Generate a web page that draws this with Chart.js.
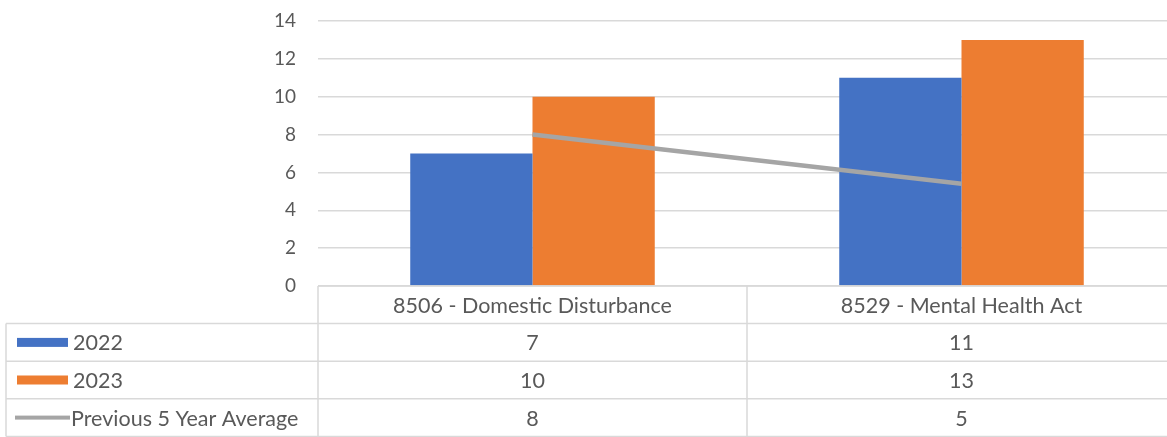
<!DOCTYPE html>
<html>
<head>
<meta charset="utf-8">
<script src="https://cdn.jsdelivr.net/npm/chart.js@4.4.0/dist/chart.umd.min.js"></script>
<style>
    html, body { margin: 0; padding: 0; background: #fff; overflow: hidden; }
    #wrap { width: 1176px; height: 437px; }
</style>
</head>
<body>
<div id="wrap"><canvas id="callChart" width="1176" height="437"></canvas></div>
<script>
// ═══ 데이터 ═══
const categories = ['8506 - Domestic Disturbance', '8529 - Mental Health Act'];
const values2022 = [7, 11];
const values2023 = [10, 13];
const avg5Year   = [8, 5.4];
const yTicks     = [0, 2, 4, 6, 8, 10, 12, 14];

const COLORS = { y2022: '#4472c4', y2023: '#ed7d31', avg: '#a5a5a5', text: '#595959', grid: '#d9d9d9' };
const FONT   = 'Lato, "Open Sans", sans-serif';

const tableRows = [
    { label: '2022', data: values2022, color: COLORS.y2022, kind: 'bar' },
    { label: '2023', data: values2023, color: COLORS.y2023, kind: 'bar' },
    { label: 'Previous 5 Year Average', data: avg5Year, color: COLORS.avg, kind: 'line' }
];

/**
 * 차트 아래 데이터 테이블 (엑셀 스타일) - x 스케일 기준으로 셀 위치 계산
 */
const dataTablePlugin = {
    id: 'dataTable',
    afterDraw(chart) {
        const ctx  = chart.ctx;
        const x    = chart.scales.x;
        const area = chart.chartArea;
        const rowH = 37.6;
        const half = (x.getPixelForValue(1) - x.getPixelForValue(0)) / 2;
        const top  = area.bottom;
        const left = 6;
        const right = chart.width;

        ctx.save();
        ctx.strokeStyle = COLORS.grid;
        ctx.lineWidth = 1.5;

        // 가로선
        ctx.beginPath();
        ctx.moveTo(area.left, top); ctx.lineTo(right, top);
        for (let r = 1; r <= 4; r++) {
            const y = top + r * rowH;
            ctx.moveTo(left, y); ctx.lineTo(right, y);
        }
        // 세로선
        ctx.moveTo(left, top + rowH); ctx.lineTo(left, top + 4 * rowH);
        ctx.moveTo(area.left, top); ctx.lineTo(area.left, top + 4 * rowH);
        categories.forEach((c, i) => {
            const bx = x.getPixelForValue(i) + half;
            ctx.moveTo(bx, top); ctx.lineTo(bx, top + 4 * rowH);
        });
        ctx.stroke();

        ctx.fillStyle = COLORS.text;
        ctx.font = '21.5px ' + FONT;
        ctx.textBaseline = 'middle';
        ctx.textAlign = 'center';

        categories.forEach((c, i) => {
            ctx.fillText(c, x.getPixelForValue(i), top + rowH / 2 + 1);
        });

        tableRows.forEach((row, r) => {
            const cy = top + (r + 1.5) * rowH;
            row.data.forEach((v, i) => {
                ctx.fillStyle = COLORS.text;
                ctx.textAlign = 'center';
                ctx.fillText(String(Math.round(v)), x.getPixelForValue(i), cy + 1);
            });
            // 범례 표시
            ctx.fillStyle = row.color;
            if (row.kind === 'bar') {
                ctx.fillRect(17, cy - 4.5, 51, 9);
            } else {
                ctx.fillRect(15, cy - 2, 55, 4);
            }
            ctx.fillStyle = COLORS.text;
            ctx.textAlign = 'left';
            ctx.fillText(row.label, row.kind === 'bar' ? 73 : 71, cy + 1);
        });
        ctx.restore();
    }
};

function initChart() {
    const ctx = document.getElementById('callChart').getContext('2d');
    new Chart(ctx, {
        type: 'bar',
        data: {
            labels: categories,
            datasets: [
                {
                    type: 'line',
                    label: 'Previous 5 Year Average',
                    data: avg5Year,
                    borderColor: COLORS.avg,
                    borderWidth: 4.5,
                    pointRadius: 0,
                    tension: 0,
                    order: 1
                },
                {
                    label: '2022',
                    data: values2022,
                    backgroundColor: COLORS.y2022,
                    borderWidth: 0,
                    categoryPercentage: 0.57,
                    barPercentage: 1,
                    order: 2
                },
                {
                    label: '2023',
                    data: values2023,
                    backgroundColor: COLORS.y2023,
                    borderWidth: 0,
                    categoryPercentage: 0.57,
                    barPercentage: 1,
                    order: 2
                }
            ]
        },
        options: {
            responsive: false,
            animation: false,
            layout: { padding: { top: 21, bottom: 151, left: 0, right: 0 } },
            scales: {
                x: { display: false },
                y: {
                    min: 0,
                    max: 14,
                    afterFit: s => { s.width = 318; s.paddingTop = 0; s.paddingBottom = 0; },
                    afterBuildTicks: s => { s.ticks = yTicks.map(v => ({ value: v })); },
                    border: { display: false },
                    grid: { color: COLORS.grid, lineWidth: 1.5, drawTicks: false },
                    ticks: { color: COLORS.text, padding: 22, font: { size: 19, family: FONT } }
                }
            },
            plugins: { legend: { display: false }, tooltip: { enabled: false } }
        },
        plugins: [dataTablePlugin]
    });
}

initChart();
</script>
</body>
</html>
